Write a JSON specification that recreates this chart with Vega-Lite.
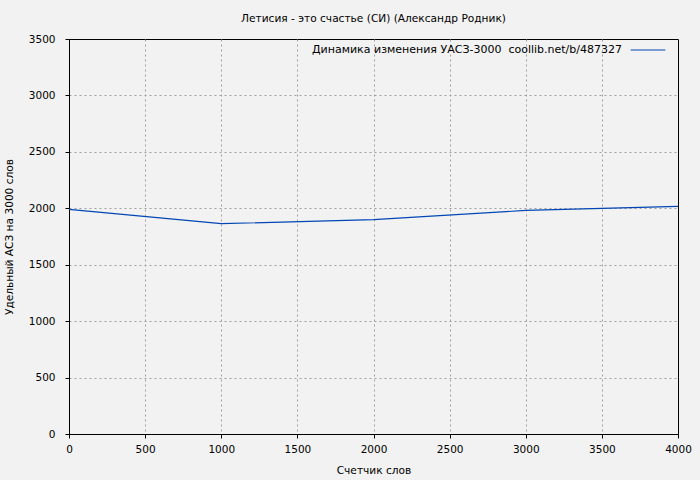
{
  "$schema": "https://vega.github.io/schema/vega-lite/v6.json",
  "width": 609,
  "height": 395,
  "autosize": {"type": "none"},
  "padding": {"left": 69, "top": 39, "right": 22, "bottom": 46},
  "background": "#f2f2f2",
  "title": {
    "text": "Летисия - это счастье (СИ) (Александр Родник)",
    "font": "DejaVu Sans",
    "fontSize": 10.6,
    "fontWeight": "normal",
    "color": "#000000",
    "offset": 7
  },
  "config": {
    "view": {"stroke": "#000000", "strokeWidth": 1, "fill": "#f2f2f2"},
    "axis": {
      "labelFont": "DejaVu Sans",
      "labelFontSize": 10.5,
      "labelColor": "#000000",
      "titleFont": "DejaVu Sans",
      "titleFontSize": 10.6,
      "titleFontWeight": "normal",
      "titleColor": "#000000",
      "domainColor": "#000000",
      "tickColor": "#000000",
      "tickSize": 4,
      "grid": true,
      "gridColor": "#a0a0a0",
      "gridDash": [2, 3],
      "gridWidth": 1,
      "format": "d"
    }
  },
  "data": {
    "values": [
      {"words": 0, "uasz": 1990, "series": "Динамика изменения УАСЗ-3000  coollib.net/b/487327"},
      {"words": 1000, "uasz": 1864, "series": "Динамика изменения УАСЗ-3000  coollib.net/b/487327"},
      {"words": 2000, "uasz": 1899, "series": "Динамика изменения УАСЗ-3000  coollib.net/b/487327"},
      {"words": 3000, "uasz": 1981, "series": "Динамика изменения УАСЗ-3000  coollib.net/b/487327"},
      {"words": 4000, "uasz": 2017, "series": "Динамика изменения УАСЗ-3000  coollib.net/b/487327"}
    ]
  },
  "mark": {"type": "line", "strokeWidth": 1.2},
  "encoding": {
    "x": {
      "field": "words",
      "type": "quantitative",
      "scale": {"domain": [0, 4000], "nice": false},
      "axis": {
        "title": "Счетчик слов",
        "values": [0, 500, 1000, 1500, 2000, 2500, 3000, 3500, 4000],
        "labelPadding": 6,
        "titlePadding": 11,
        "labelFlush": false,
        "gridOpacity": {"condition": {"test": "datum.value <= 0 || datum.value >= 4000", "value": 0}, "value": 1}
      }
    },
    "y": {
      "field": "uasz",
      "type": "quantitative",
      "scale": {"domain": [0, 3500], "nice": false},
      "axis": {
        "title": "Удельный АСЗ на 3000 слов",
        "values": [0, 500, 1000, 1500, 2000, 2500, 3000, 3500],
        "labelPadding": 10,
        "titlePadding": 14,
        "gridOpacity": {"condition": {"test": "datum.value <= 0 || datum.value >= 3500", "value": 0}, "value": 1}
      }
    },
    "color": {
      "field": "series",
      "type": "nominal",
      "scale": {"range": ["#0046b4"]},
      "legend": {
        "title": null,
        "orient": "none",
        "legendX": 561,
        "legendY": -7,
        "padding": 0,
        "symbolType": "stroke",
        "symbolSize": 1200,
        "symbolStrokeWidth": 1.2,
        "labelAlign": "right",
        "labelOffset": -44,
        "labelFont": "DejaVu Sans",
        "labelFontSize": 11,
        "labelColor": "#000000",
        "labelLimit": 0,
        "labelExpr": "'Динамика изменения УАСЗ-3000\u00a0\u00a0coollib.net/b/487327'"
      }
    }
  }
}
